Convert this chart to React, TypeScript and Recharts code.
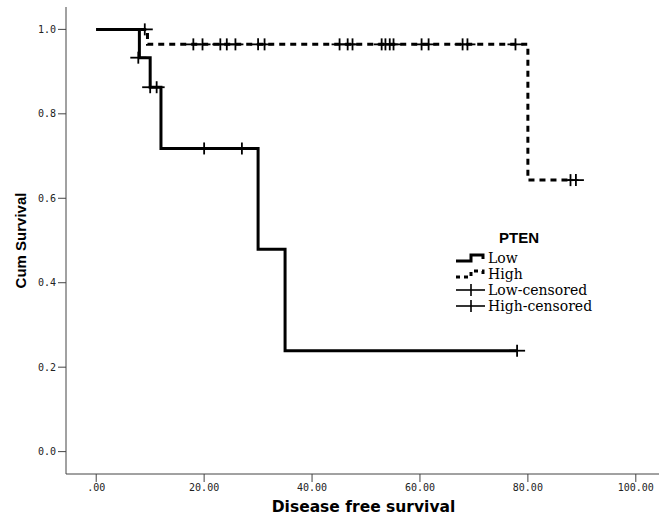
import {
  ComposedChart,
  Legend,
  Line,
  Scatter,
  XAxis,
  YAxis,
} from "recharts"

// Kaplan-Meier curves (time in months, cum survival)
const lowTimes = [0, 8, 10, 12, 30, 35, 78]
const lowSurv = [1, 0.933, 0.863, 0.718, 0.479, 0.239, 0.239]

const highTimes = [0, 9.5, 80, 88.3]
const highSurv = [1, 0.9645, 0.643, 0.643]

const lowCensTimes = [7.8, 10, 11.2, 20, 27, 78]
const lowCensSurv = [0.933, 0.863, 0.863, 0.718, 0.718, 0.239]

const highCensTimes = [
  9.0, 18, 19.7, 23, 24.2, 25.8, 30, 31.2, 45.1, 46.6, 47.5, 52.9, 53.6, 54.4,
  55.1, 60.3, 61.6, 67.9, 68.8, 77.7, 87.9, 88.9,
]
const highCensSurv = [
  1, 0.9645, 0.9645, 0.9645, 0.9645, 0.9645, 0.9645, 0.9645, 0.9645, 0.9645,
  0.9645, 0.9645, 0.9645, 0.9645, 0.9645, 0.9645, 0.9645, 0.9645, 0.9645,
  0.9645, 0.643, 0.643,
]

const xTicks = [0, 20, 40, 60, 80, 100]
const yTicks = [0, 0.2, 0.4, 0.6, 0.8, 1.0]

const legendTitle = "PTEN"
const legendLabels = ["Low", "High", "Low-censored", "High-censored"]

const zip = (t: number[], s: number[]) => t.map((v, i) => ({ t: v, s: s[i] }))

const lowCurve = zip(lowTimes, lowSurv)
const highCurve = zip(highTimes, highSurv)
const lowCens = zip(lowCensTimes, lowCensSurv)
const highCens = zip(highCensTimes, highCensSurv)

const AXIS = "#444"
const TICK_FONT = "'DejaVu Sans Mono', monospace"

function Cross({ cx, cy }: { cx?: number; cy?: number }) {
  if (cx == null || cy == null) return <g />
  return (
    <g stroke="#000" strokeWidth={1.8}>
      <line x1={cx - 8} y1={cy} x2={cx + 8} y2={cy} />
      <line x1={cx} y1={cy - 6} x2={cx} y2={cy + 6} />
    </g>
  )
}

function LegendBox() {
  const rows = [
    <path key="l" d="M1 10 H16 V4 H28 V8" fill="none" stroke="#000" strokeWidth={3} />,
    <path key="h" d="M1 10 H16 V4 H28 V8" fill="none" stroke="#000" strokeWidth={3} strokeDasharray="4 4" />,
    <g key="lc" stroke="#000" strokeWidth={1.6}>
      <line x1={1} y1={7} x2={30} y2={7} />
      <line x1={16} y1={1} x2={16} y2={13} />
    </g>,
    <g key="hc" stroke="#000" strokeWidth={1.6}>
      <line x1={1} y1={7} x2={30} y2={7} />
      <line x1={16} y1={1} x2={16} y2={13} />
    </g>,
  ]
  return (
    <div style={{ width: 180 }}>
      <div
        style={{
          fontFamily: "'Liberation Sans', Arial, sans-serif",
          fontWeight: "bold",
          fontSize: 15,
          paddingLeft: 44,
          lineHeight: "24px",
        }}
      >
        {legendTitle}
      </div>
      {legendLabels.map((label, i) => (
        <div key={label} style={{ display: "flex", alignItems: "center", height: 16 }}>
          <svg width={32} height={14}>{rows[i]}</svg>
          <span
            style={{
              fontFamily: "'DejaVu Serif', serif",
              fontSize: 14,
              marginLeft: 1,
              lineHeight: "16px",
            }}
          >
            {label}
          </span>
        </div>
      ))}
    </div>
  )
}

export default function App() {
  return (
    <div style={{ position: "absolute", left: 0, top: 0, background: "#fff" }}>
      <ComposedChart
        width={659}
        height={517}
        margin={{ top: 7, right: 0, bottom: 0, left: 0 }}
      >
        <XAxis
          xAxisId="top"
          orientation="top"
          type="number"
          dataKey="t"
          domain={[-5.6, 104.3]}
          height={0}
          tick={false}
          tickLine={false}
          stroke={AXIS}
        />
        <XAxis
          dataKey="t"
          type="number"
          domain={[-5.6, 104.3]}
          ticks={xTicks}
          allowDataOverflow
          height={43}
          tickSize={8}
          tickMargin={2}
          stroke={AXIS}
          tick={{ fill: "#222", fontSize: 10, fontFamily: TICK_FONT }}
          tickFormatter={(v: number) => (v === 0 ? ".00" : v.toFixed(2))}
          label={(props: any) => {
            const vb = props.viewBox || { x: 66, y: 474, width: 593 }
            return (
              <text
                x={vb.x + vb.width / 2 + 1}
                y={vb.y + 33}
                textAnchor="middle"
                dominantBaseline="central"
                fontFamily="'DejaVu Sans', sans-serif"
                fontWeight="bold"
                fontSize={15.5}
                fill="#000"
              >
                Disease free survival
              </text>
            )
          }}
        />
        <YAxis
          dataKey="s"
          type="number"
          domain={[-0.053, 1.053]}
          ticks={yTicks}
          allowDataOverflow
          width={66}
          tickSize={8}
          tickMargin={2}
          stroke={AXIS}
          tick={{ fill: "#222", fontSize: 10, fontFamily: TICK_FONT }}
          tickFormatter={(v: number) => v.toFixed(1)}
          label={(props: any) => {
            const vb = props.viewBox || { x: 0, y: 7, height: 467 }
            const cx = vb.x + 20
            const cy = vb.y + vb.height / 2
            return (
              <text
                x={cx}
                y={cy}
                transform={`rotate(-90 ${cx} ${cy})`}
                textAnchor="middle"
                dominantBaseline="central"
                fontFamily="'Liberation Sans', Arial, sans-serif"
                fontWeight="bold"
                fontSize={15}
                fill="#000"
              >
                Cum Survival
              </text>
            )
          }}
        />
        <Line
          data={highCurve}
          dataKey="s"
          type="stepAfter"
          stroke="#000"
          strokeWidth={3}
          strokeDasharray="6 5"
          dot={false}
          activeDot={false}
          isAnimationActive={false}
        />
        <Line
          data={lowCurve}
          dataKey="s"
          type="stepAfter"
          stroke="#000"
          strokeWidth={3}
          dot={false}
          activeDot={false}
          isAnimationActive={false}
        />
        <Scatter data={lowCens} dataKey="s" shape={<Cross />} isAnimationActive={false} />
        <Scatter data={highCens} dataKey="s" shape={<Cross />} isAnimationActive={false} />
        <Legend
          layout="vertical"
          align="center"
          verticalAlign="middle"
          content={() => <LegendBox />}
          wrapperStyle={{ left: 455, top: 226, width: 180 }}
        />
      </ComposedChart>
    </div>
  )
}
